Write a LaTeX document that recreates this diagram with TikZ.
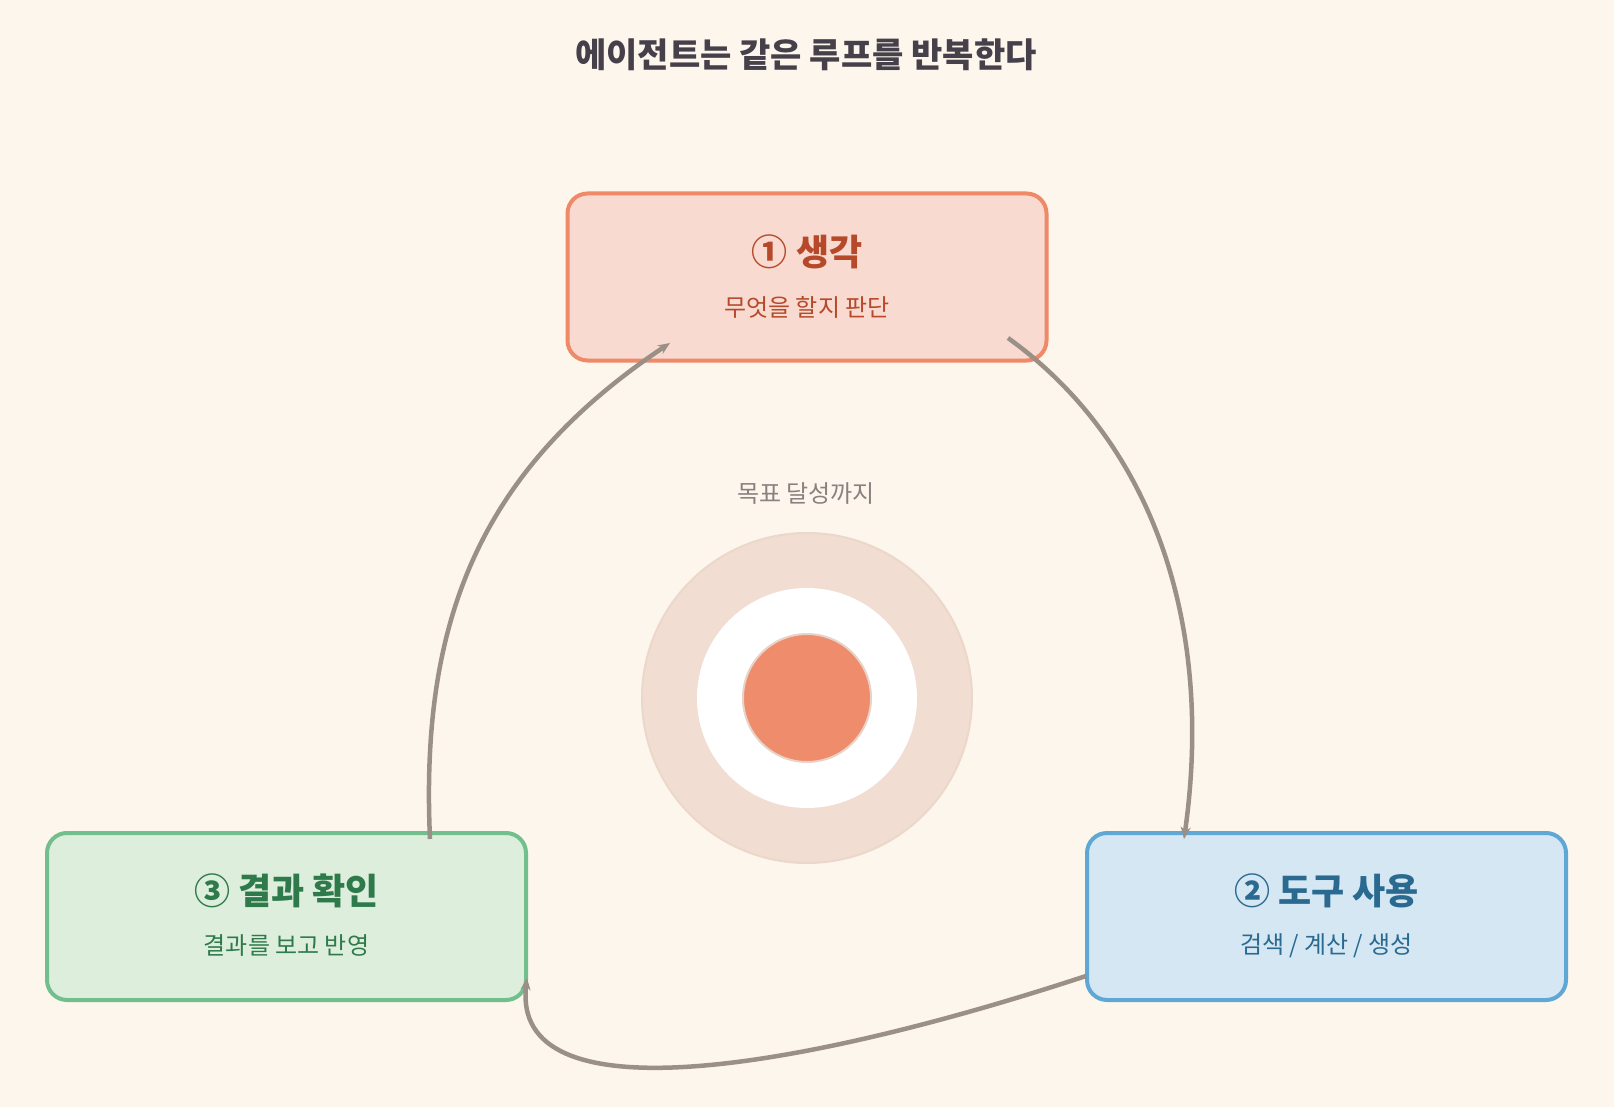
\documentclass[tikz,border=0pt]{standalone}
\usepackage{fontspec}
\setmainfont{Noto Sans CJK KR}
\usetikzlibrary{arrows.meta}
\definecolor{bg}{HTML}{FDF6EC}
\definecolor{rfill}{HTML}{F8DAD0}\definecolor{rline}{HTML}{EE8A68}\definecolor{rtext}{HTML}{B5492A}
\definecolor{gfill}{HTML}{DDEEDD}\definecolor{gline}{HTML}{72BF8E}\definecolor{gtext}{HTML}{2E7A4A}
\definecolor{bfill}{HTML}{D4E7F3}\definecolor{bline}{HTML}{5FA7D4}\definecolor{btext}{HTML}{2A6A90}
\definecolor{arr}{HTML}{9A9088}\definecolor{ttl}{HTML}{45404A}
\definecolor{ring}{HTML}{F2DDD2}\definecolor{ringl}{HTML}{ECD7CB}
\definecolor{core}{HTML}{EF8C6B}\definecolor{corel}{HTML}{E8D3C8}\definecolor{goal}{HTML}{8A8080}
\tikzset{
 card/.style={draw,line width=4pt,rounded corners=20pt,minimum width=479pt,minimum height=167pt},
 loop/.style={draw=arr,line width=4.5pt,-{Stealth[length=12pt,width=10pt]}},
}
\begin{document}
\begin{tikzpicture}[x=1pt,y=-1pt]
\fill[bg] (0,0) rectangle (1614,1107);
\useasboundingbox (0,0) rectangle (1614,1107);
\node[font=\bfseries\fontsize{34}{40}\selectfont,text=ttl] (title) at (806,55) {에이전트는 같은 루프를 반복한다};
\node[card,fill=rfill,draw=rline] (think) at (807,277) {};
\node[card,fill=bfill,draw=bline] (tool) at (1326.5,916.5) {};
\node[card,fill=gfill,draw=gline] (check) at (286.5,916.5) {};
\node[font=\bfseries\fontsize{36}{42}\selectfont,text=rtext] (t1) at (807,252) {① 생각};
\node[font=\fontsize{24}{28}\selectfont,text=rtext] (s1) at (807,307) {무엇을 할지 판단};
\node[font=\bfseries\fontsize{36}{42}\selectfont,text=btext] (t2) at (1326.5,891) {② 도구 사용};
\node[font=\fontsize{24}{28}\selectfont,text=btext] (s2) at (1326.5,946) {검색 / 계산 / 생성};
\node[font=\bfseries\fontsize{36}{42}\selectfont,text=gtext] (t3) at (286.5,891) {③ 결과 확인};
\node[font=\fontsize{24}{28}\selectfont,text=gtext] (s3) at (286.5,946) {결과를 보고 반영};
\node[circle,fill=ring,draw=ringl,line width=2pt,minimum size=330pt,inner sep=0pt] (outer) at (807,698) {};
\node[circle,fill=white,minimum size=220pt,inner sep=0pt] (mid) at (807,698) {};
\node[circle,fill=core,draw=corel,line width=2pt,minimum size=128pt,inner sep=0pt] (corec) at (807,698) {};
\node[font=\fontsize{24}{28}\selectfont,text=goal] (goaltxt) at (806,494) {목표 달성까지};
\coordinate (a1s) at (430,839); \coordinate (a1e) at (670,343);
\coordinate (a2s) at (1008,338); \coordinate (a2e) at (1184,839);
\coordinate (a3s) at (1086,976); \coordinate (a3e) at (527,978);
\draw[loop] (a1s) .. controls (420,620) and (480,470) .. (a1e);
\draw[loop] (a2s) .. controls (1150,440) and (1215,620) .. (a2e);
\draw[loop] (a3s) .. controls (800,1070) and (510,1120) .. (a3e);
\end{tikzpicture}
\end{document}
